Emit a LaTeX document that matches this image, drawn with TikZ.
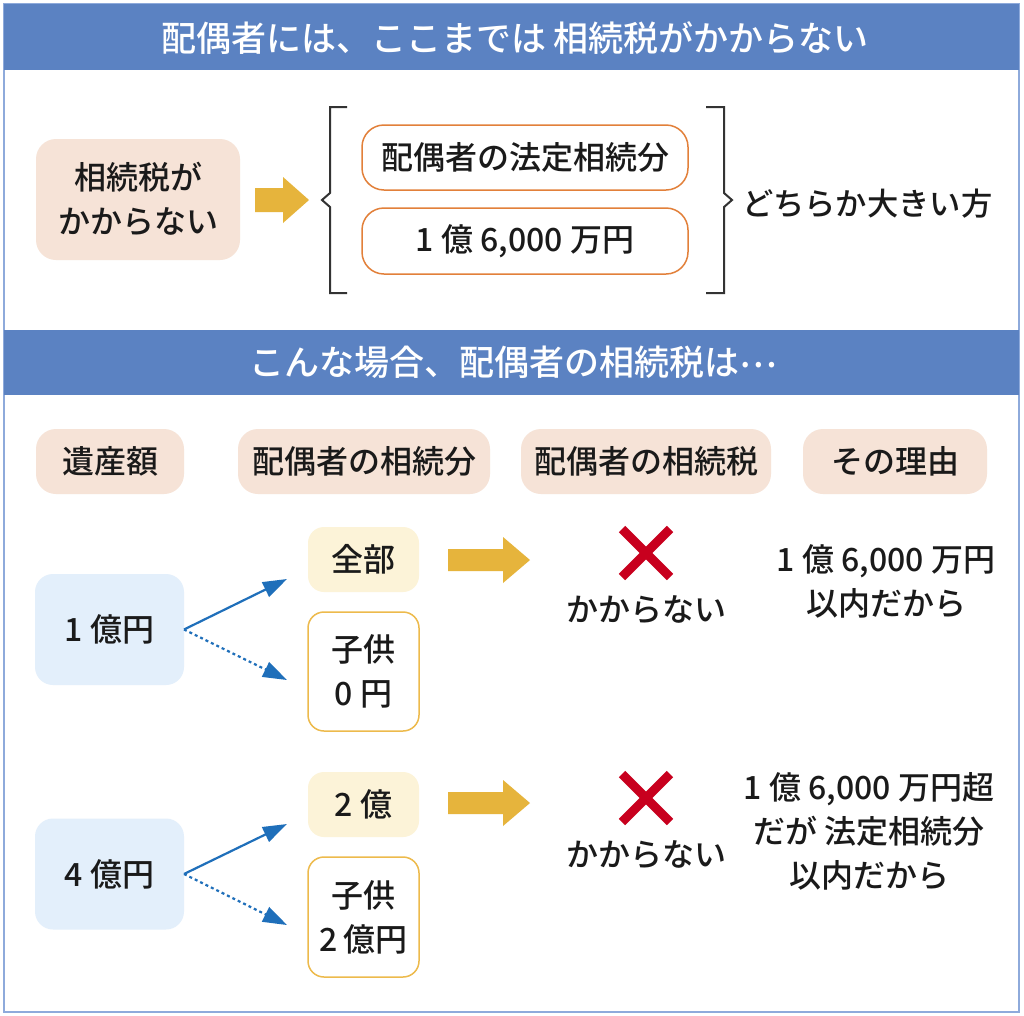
\documentclass[tikz,border=0pt]{standalone}
\usepackage{fontspec}
\setmainfont{Noto Sans CJK JP}[UprightFont=* Medium]
\usetikzlibrary{arrows.meta}
\definecolor{hdrblue}{HTML}{5B82C2}
\definecolor{framebl}{HTML}{8EAADB}
\definecolor{peach}{HTML}{F6E3D7}
\definecolor{orangeln}{HTML}{E2803A}
\definecolor{goldarr}{HTML}{E6B43C}
\definecolor{lightyel}{HTML}{FCF3D8}
\definecolor{goldln}{HTML}{EDBA4C}
\definecolor{lightblu}{HTML}{E3EFFB}
\definecolor{arrblue}{HTML}{1F6FBA}
\definecolor{crossred}{HTML}{C8001E}
\definecolor{txt}{HTML}{1A1A1A}
\begin{document}
\begin{tikzpicture}[x=1pt,y=-1pt,
  every node/.style={inner sep=0pt, outer sep=0pt, text=txt, font=\fontsize{32}{44}\selectfont, align=center},
  hdrtext/.style={text=white, font=\fontsize{35}{40}\selectfont},
  peachbox/.style={fill=peach, draw=none, rounded corners=20pt},
  orangebox/.style={fill=white, draw=orangeln, line width=1.5pt, rounded corners=22pt},
  yelbox/.style={fill=lightyel, draw=none, rounded corners=16pt},
  goldbox/.style={fill=white, draw=goldln, line width=1.5pt, rounded corners=16pt},
  bluebox/.style={fill=lightblu, draw=none, rounded corners=18pt},
  solidarrow/.style={draw=arrblue, line width=2.2pt, -{Triangle[length=24pt,width=16pt]}},
  dotarrow/.style={draw=arrblue, line width=2.2pt, dash pattern=on 3pt off 3pt, -{Triangle[length=24pt,width=16pt]}},
  crossline/.style={draw=crossred, line width=9pt},
  bracketline/.style={draw=black!80, line width=2pt}
]
\useasboundingbox (0,0) rectangle (1024,1015);
\fill[white] (0,0) rectangle (1024,1015);
% frame
\draw[framebl, line width=1.5pt] (4,4) rectangle (1019,1012);
% header bands
\fill[hdrblue] (4,4) rectangle (1019,70);
\node[hdrtext] (h1) at (515,38) {配偶者には、ここまでは 相続税がかからない};
\fill[hdrblue] (4,330) rectangle (1019,395);
\node[hdrtext] (h2) at (513,362) {こんな場合、配偶者の相続税は\raisebox{0.22em}{⋯}};

% top section
\node[peachbox, minimum width=204pt, minimum height=121pt] (notax) at (138,199.5) {相続税が\\かからない};
\fill[goldarr] (255,188) -- (283,188) -- (283,177) -- (309,200) -- (283,223) -- (283,212) -- (255,212) -- cycle;
\node[orangebox, minimum width=326pt, minimum height=65pt] (legal) at (525,157.5) {配偶者の法定相続分};
\node[orangebox, minimum width=326pt, minimum height=66pt] (fixed) at (525,241) {1 億 6,000 万円};
\draw[bracketline] (347,107) -- (330,107) -- (330,193) -- (322,200) -- (330,207) -- (330,293) -- (347,293);
\draw[bracketline] (706,107) -- (724,107) -- (724,193) -- (732,200) -- (724,207) -- (724,293) -- (706,293);
\node[anchor=west, font=\fontsize{31.3}{40}\selectfont] (larger) at (742,204) {どちらか大きい方};

% column headers
\node[peachbox, minimum width=148pt, minimum height=65pt] (c1) at (110,461.5) {遺産額};
\node[peachbox, minimum width=252pt, minimum height=65pt] (c2) at (364,461.5) {配偶者の相続分};
\node[peachbox, minimum width=250pt, minimum height=65pt] (c3) at (646,461.5) {配偶者の相続税};
\node[peachbox, minimum width=184pt, minimum height=65pt] (c4) at (895,461.5) {その理由};

% row 1
\node[bluebox, minimum width=149pt, minimum height=111pt] (e1) at (109.5,629.5) {1 億円};
\node[yelbox, minimum width=111pt, minimum height=65pt] (s1) at (363.5,559.5) {全部};
\node[goldbox, minimum width=111pt, minimum height=119pt] (k1) at (363.5,671.5) {子供\\0 円};
\coordinate (e1o) at (184,629.5);
\coordinate (s1i) at (287,579);
\coordinate (k1i) at (287,680);
\draw[solidarrow] (e1o) -- (s1i);
\draw[dotarrow] (e1o) -- (k1i);
\fill[goldarr] (448,549) -- (503,549) -- (503,537) -- (530,560) -- (503,583) -- (503,571) -- (448,571) -- cycle;
\draw[crossline] (622,529) -- (670,577);
\draw[crossline] (670,529) -- (622,577);
\node (r1) at (646,610) {かからない};
\node (w1) at (886,581) {1 億 6,000 万円\\以内だから};

% row 2
\node[bluebox, minimum width=149pt, minimum height=111pt] (e2) at (109.5,874) {4 億円};
\node[yelbox, minimum width=111pt, minimum height=65pt] (s2) at (363.5,804.5) {2 億};
\node[goldbox, minimum width=111pt, minimum height=120pt] (k2) at (363.5,917) {子供\\2\,億円};
\coordinate (e2o) at (184,874);
\coordinate (s2i) at (287,824);
\coordinate (k2i) at (287,925);
\draw[solidarrow] (e2o) -- (s2i);
\draw[dotarrow] (e2o) -- (k2i);
\fill[goldarr] (448,792) -- (503,792) -- (503,780) -- (530,803) -- (503,826) -- (503,814) -- (448,814) -- cycle;
\draw[crossline] (622,774) -- (670,822);
\draw[crossline] (670,774) -- (622,822);
\node (r2) at (646,855) {かからない};
\node (w2) at (869,831) {1 億 6,000 万円超\\だが 法定相続分\\以内だから};
\end{tikzpicture}
\end{document}
